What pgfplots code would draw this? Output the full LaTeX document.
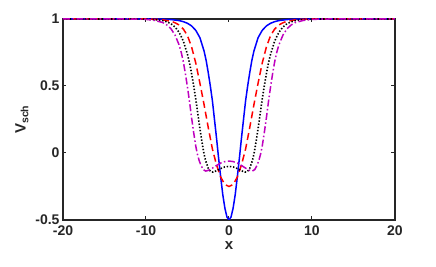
\documentclass[border=0pt]{standalone}
\usepackage{fontspec}
\setmainfont{Liberation Sans}
\usepackage{pgfplots}
\usepackage{pgfplotstable}
\pgfplotsset{compat=1.18}
\definecolor{mag}{rgb}{0.75,0,0.75}
\definecolor{axgray}{rgb}{0.15,0.15,0.15}

\pgfplotstableread{
x V
-20 1
-9 1
-8 0.999
-7 0.996
-6 0.988
-5.5 0.98
-5 0.968
-4.5 0.948
-4 0.915
-3.5 0.86
-3 0.76
-2.75 0.69
-2.5 0.6
-2.25 0.5
-2 0.39
-1.75 0.25
-1.5 0.11
-1.25 -0.04
-1 -0.18
-0.75 -0.31
-0.5 -0.41
-0.25 -0.477
0 -0.5
0.25 -0.477
0.5 -0.41
0.75 -0.31
1 -0.18
1.25 -0.04
1.5 0.11
1.75 0.25
2 0.39
2.25 0.5
2.5 0.6
2.75 0.69
3 0.76
3.5 0.86
4 0.915
4.5 0.948
5 0.968
5.5 0.98
6 0.988
7 0.996
8 0.999
9 1
20 1
}\blue

\pgfplotstableread{
x V
-20 1
-10 1
-9 0.998
-8 0.994
-7 0.983
-6.5 0.972
-6 0.955
-5.5 0.925
-5 0.875
-4.5 0.79
-4 0.67
-3.5 0.52
-3 0.36
-2.5 0.19
-2 0.03
-1.5 -0.09
-1 -0.18
-0.5 -0.235
0 -0.25
0.5 -0.235
1 -0.18
1.5 -0.09
2 0.03
2.5 0.19
3 0.36
3.5 0.52
4 0.67
4.5 0.79
5 0.875
5.5 0.925
6 0.955
6.5 0.972
7 0.983
8 0.994
9 0.998
10 1
20 1
}\red

\pgfplotstableread{
x V
-20 1
-11 1
-10 0.999
-9 0.996
-8 0.988
-7.5 0.979
-7 0.965
-6.5 0.94
-6 0.9
-5.5 0.835
-5 0.735
-4.75 0.67
-4.5 0.59
-4.25 0.5
-4 0.4
-3.75 0.29
-3.5 0.18
-3.25 0.08
-3 -0.01
-2.8 -0.06
-2.5 -0.115
-2.2 -0.14
-1.9 -0.143
-1.5 -0.132
-1 -0.116
-0.5 -0.104
0 -0.1
0.5 -0.104
1 -0.116
1.5 -0.132
1.9 -0.143
2.2 -0.14
2.5 -0.115
2.8 -0.06
3 -0.01
3.25 0.08
3.5 0.18
3.75 0.29
4 0.4
4.25 0.5
4.5 0.59
4.75 0.67
5 0.735
5.5 0.835
6 0.9
6.5 0.94
7 0.965
7.5 0.979
8 0.988
9 0.996
10 0.999
11 1
20 1
}\black

\pgfplotstableread{
x V
-20 1
-12 1
-11 0.999
-10 0.997
-9 0.99
-8 0.974
-7.5 0.956
-7 0.928
-6.5 0.88
-6 0.805
-5.75 0.75
-5.5 0.68
-5.25 0.59
-5 0.49
-4.75 0.38
-4.5 0.26
-4.25 0.15
-4 0.05
-3.8 -0.01
-3.6 -0.055
-3.4 -0.09
-3.1 -0.124
-2.8 -0.135
-2.5 -0.13
-2 -0.113
-1.5 -0.093
-1 -0.075
-0.5 -0.064
0 -0.06
0.5 -0.064
1 -0.075
1.5 -0.093
2 -0.113
2.5 -0.13
2.8 -0.135
3.1 -0.124
3.4 -0.09
3.6 -0.055
3.8 -0.01
4 0.05
4.25 0.15
4.5 0.26
4.75 0.38
5 0.49
5.25 0.59
5.5 0.68
5.75 0.75
6 0.805
6.5 0.88
7 0.928
7.5 0.956
8 0.974
9 0.99
10 0.997
11 0.999
12 1
20 1
}\magenta

\begin{document}
\begin{tikzpicture}
\path[use as bounding box] (-63pt,-47pt) rectangle (373pt,220pt);
\begin{axis}[
  at={(0,0)}, anchor=south west,
  scale only axis, width=332pt, height=201pt,
  xmin=-20, xmax=20, ymin=-0.5, ymax=1,
  xtick={-20,-10,0,10,20},
  xticklabels={-20,-10,0,10,20},
  ytick={-0.5,0,0.5,1},
  yticklabels={-0.5,0,0.5,1},
  tick align=inside, xtick pos=both, ytick pos=both,
  major tick length=3.5pt,
  tick style={axgray, line width=1pt},
  axis line style={axgray, line width=1.3pt},
  tick label style={font=\bfseries\fontsize{14}{14}\selectfont, text=axgray},
  xticklabel style={yshift=-2.5pt},
  xlabel={x}, ylabel={V\textsubscript{sch}},
  xlabel style={yshift=1pt},
  label style={font=\bfseries\fontsize{15}{15}\selectfont, text=axgray},
  clip=true,
]
\addplot[blue, line width=1.5pt] table[x=x,y=V] {\blue};
\addplot[red, line width=1.5pt, dash pattern=on 7pt off 4pt] table[x=x,y=V] {\red};
\addplot[black, line width=1.6pt, dash pattern=on 1.4pt off 1.8pt] table[x=x,y=V] {\black};
\addplot[mag, line width=1.5pt, dash pattern=on 7pt off 2.5pt on 1.5pt off 2.5pt] table[x=x,y=V] {\magenta};
\end{axis}
\end{tikzpicture}
\end{document}
